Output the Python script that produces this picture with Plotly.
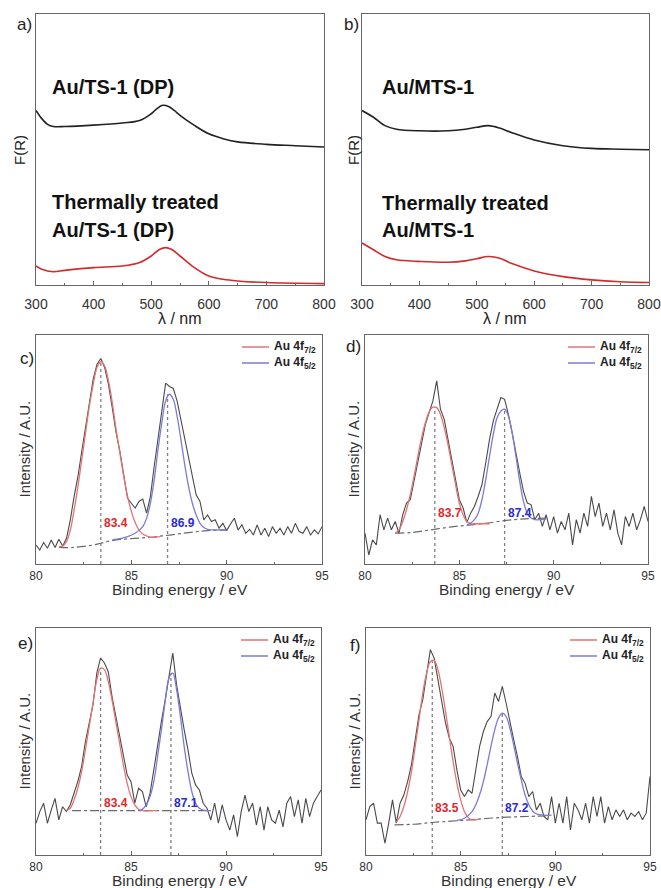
import plotly.graph_objects as go

W, H = 661, 888
FONT = "Liberation Sans, Arial, sans-serif"

# ---------------- UV-vis (panels a, b) ----------------
wl_a_dp = [300, 310, 320, 330, 350, 400, 450, 480, 500, 510, 520, 530, 540, 550, 575, 600, 625, 650, 700, 750, 800]
fr_a_dp = [0.644, 0.614, 0.593, 0.585, 0.585, 0.590, 0.598, 0.607, 0.632, 0.651, 0.663, 0.659, 0.644, 0.626,
           0.589, 0.558, 0.540, 0.528, 0.519, 0.514, 0.509]
wl_a_tt = [300, 310, 330, 350, 400, 450, 480, 500, 515, 525, 535, 550, 575, 600, 625, 650, 700, 800]
fr_a_tt = [0.070, 0.058, 0.049, 0.054, 0.064, 0.070, 0.083, 0.107, 0.132, 0.138, 0.132, 0.107, 0.064, 0.033,
           0.021, 0.015, 0.009, 0.005]

wl_b = [300, 320, 340, 360, 400, 450, 480, 500, 520, 540, 560, 600, 650, 700, 750, 800]
fr_b_mts = [0.644, 0.619, 0.588, 0.575, 0.569, 0.569, 0.575, 0.582, 0.588, 0.579, 0.563, 0.535, 0.514, 0.504,
            0.501, 0.499]
fr_b_tt = [0.155, 0.130, 0.105, 0.093, 0.087, 0.084, 0.089, 0.097, 0.105, 0.099, 0.080, 0.052, 0.031, 0.019,
           0.012, 0.009]

# ---------------- XPS (panels c-f) ----------------
be = [80.0, 80.2, 80.4, 80.6, 80.8, 81.0, 81.2, 81.4, 81.6, 81.8, 82.0, 82.2, 82.4, 82.6, 82.8, 83.0, 83.2, 83.4,
      83.6, 83.8, 84.0, 84.2, 84.4, 84.6, 84.8, 85.0, 85.2, 85.4, 85.6, 85.8, 86.0, 86.2, 86.4, 86.6, 86.8, 87.0,
      87.2, 87.4, 87.6, 87.8, 88.0, 88.2, 88.4, 88.6, 88.8, 89.0, 89.2, 89.4, 89.6, 89.8, 90.0, 90.2, 90.4, 90.6,
      90.8, 91.0, 91.2, 91.4, 91.6, 91.8, 92.0, 92.2, 92.4, 92.6, 92.8, 93.0, 93.2, 93.4, 93.6, 93.8, 94.0, 94.2,
      94.4, 94.6, 94.8, 95.0]

raw_c = [5.0, 2.7, 6.1, 3.5, 7.3, 3.9, 7.6, 4.5, 8.0, 16.4, 27.0, 36.0, 47.4, 58.8, 69.4, 80.0, 86.8, 89.4, 85.3,
         77.7, 67.1, 55.8, 47.4, 37.6, 26.2, 23.9, 21.7, 24.7, 25.8, 19.4, 27.0, 40.6, 52.7, 66.4, 78.2, 76.7,
         75.8, 70.2, 61.8, 52.0, 43.6, 36.0, 27.7, 24.7, 16.4, 18.6, 15.6, 16.4, 12.6, 14.8, 11.5, 14.5, 17.1,
         11.8, 14.1, 10.3, 12.1, 9.5, 14.1, 9.5, 12.6, 8.8, 13.3, 10.3, 12.6, 9.5, 13.3, 10.3, 14.8, 11.1, 10.3,
         13.3, 9.5, 11.8, 10.0, 13.3]
raw_d = [11.9, 2.2, 8.9, 6.7, 20.1, 13.4, 18.6, 13.4, 17.1, 11.9, 20.1, 25.3, 26.8, 35.0, 43.2, 52.1, 60.3, 65.5,
         70.7, 79.6, 67.0, 62.5, 53.6, 43.9, 35.0, 26.8, 23.1, 16.7, 20.8, 23.8, 28.3, 33.5, 43.2, 53.6, 61.8,
         67.0, 72.2, 71.4, 64.7, 56.5, 46.9, 38.7, 30.5, 25.3, 24.6, 17.9, 20.8, 14.9, 20.1, 13.4, 19.3, 11.9,
         17.1, 13.4, 20.8, 6.7, 17.9, 11.9, 20.8, 14.9, 28.3, 19.3, 25.3, 14.9, 20.8, 13.4, 22.3, 11.9, 6.7, 19.3,
         14.9, 20.8, 13.4, 17.9, 23.8, 17.1]
raw_e = [11.4, 16.7, 20.5, 11.4, 17.4, 22.7, 12.9, 18.9, 16.7, 19.7, 25.0, 30.3, 37.1, 48.5, 56.8, 65.2, 79.5,
         86.4, 84.1, 80.3, 68.9, 59.8, 52.3, 42.4, 33.3, 30.3, 20.5, 27.3, 25.8, 18.9, 25.0, 35.6, 47.7, 57.6,
         67.4, 78.0, 88.6, 74.2, 63.6, 53.8, 44.7, 34.1, 28.8, 26.5, 20.5, 18.2, 12.9, 20.5, 11.4, 19.7, 12.9,
         8.3, 15.2, 5.3, 16.7, 24.2, 16.7, 20.5, 10.6, 18.9, 8.3, 18.9, 12.9, 11.4, 17.4, 9.8, 20.5, 23.5, 14.4,
         22.0, 11.4, 22.7, 14.4, 20.5, 23.5, 26.5]
raw_f = [13.3, 19.3, 20.8, 11.8, 11.8, 2.7, 11.8, 22.3, 11.8, 20.8, 24.6, 30.6, 38.2, 50.2, 60.8, 67.6, 79.6,
         90.2, 86.4, 76.6, 67.6, 57.0, 50.2, 46.5, 35.9, 26.8, 23.8, 26.8, 25.3, 35.9, 46.5, 53.2, 57.7, 60.0,
         70.6, 66.8, 73.6, 66.1, 57.0, 49.5, 41.9, 32.9, 29.9, 23.8, 26.1, 17.8, 20.8, 14.8, 13.3, 23.8, 11.8,
         20.8, 11.8, 23.8, 8.7, 20.8, 17.8, 13.3, 20.8, 11.8, 23.8, 14.8, 23.8, 11.8, 19.3, 13.3, 17.8, 14.8,
         17.8, 13.3, 16.3, 14.8, 17.0, 13.3, 16.3, 32.9]

# fitted components (Au 4f7/2 red, Au 4f5/2 blue) and backgrounds
red_x_c = [81.2, 81.4, 81.6, 81.8, 82.0, 82.2, 82.4, 82.6, 82.8, 83.0, 83.2, 83.4, 83.6, 83.8, 84.0, 84.2, 84.4,
           84.6, 84.8, 85.0, 85.2, 85.4, 85.6, 85.8, 86.0, 86.2, 86.5]
red_y_c = [4.2, 4.5, 6.5, 11.8, 20.9, 31.5, 43.6, 55.8, 67.9, 77.7, 85.3, 87.9, 86.0, 79.2, 69.4, 57.3, 46.7,
           36.0, 27.0, 20.2, 15.2, 11.8, 10.0, 9.1, 8.5, 8.5, 8.8]
blue_x_c = [84.0, 84.4, 84.8, 85.2, 85.6, 85.8, 86.0, 86.2, 86.4, 86.6, 86.8, 87.0, 87.2, 87.4, 87.6, 87.8, 88.0,
            88.2, 88.4, 88.6, 88.8, 89.0, 89.5, 90.0]
blue_y_c = [7.3, 7.9, 8.8, 10.3, 13.3, 17.1, 23.9, 34.5, 48.2, 60.3, 70.2, 73.2, 70.9, 63.3, 52.7, 41.4, 31.5,
            23.9, 18.6, 14.8, 12.9, 12.1, 11.8, 11.8]
bg_x_c = [81.2, 82.0, 83.0, 83.4, 84.0, 85.0, 86.0, 87.0, 88.0, 89.0, 90.0]
bg_y_c = [3.9, 3.9, 5.0, 5.8, 7.0, 7.9, 8.5, 9.5, 10.6, 11.5, 11.8]

red_x_d = [81.6, 81.8, 82.0, 82.2, 82.4, 82.6, 82.8, 83.0, 83.2, 83.4, 83.6, 83.8, 84.0, 84.2, 84.4, 84.6, 84.8,
           85.0, 85.2, 85.4, 85.6, 85.8, 86.2, 86.6]
red_y_d = [11.9, 13.4, 17.1, 22.3, 29.0, 37.2, 46.1, 54.3, 61.0, 65.8, 67.9, 67.7, 64.7, 58.8, 51.3, 42.4, 33.5,
           25.3, 20.1, 17.1, 16.1, 16.1, 16.1, 16.1]
blue_x_d = [85.4, 85.6, 85.8, 86.0, 86.2, 86.4, 86.6, 86.8, 87.0, 87.2, 87.4, 87.6, 87.8, 88.0, 88.2, 88.4, 88.6,
            88.8, 89.0, 89.6]
blue_y_d = [15.6, 16.4, 17.9, 20.8, 26.8, 35.7, 46.1, 55.8, 63.2, 66.2, 67.0, 64.0, 56.5, 46.1, 35.0, 26.0, 20.8,
            18.6, 17.9, 18.2]
bg_x_d = [81.6, 82.5, 83.5, 84.5, 85.5, 86.5, 87.5, 88.5, 89.6]
bg_y_d = [11.9, 12.2, 13.4, 14.6, 15.5, 16.4, 17.6, 18.3, 18.6]

red_x_e = [81.6, 81.8, 82.0, 82.2, 82.4, 82.6, 82.8, 83.0, 83.2, 83.4, 83.6, 83.8, 84.0, 84.2, 84.4, 84.6, 84.8,
           85.0, 85.2, 85.4, 85.6, 86.0, 86.4]
red_y_e = [17.1, 18.2, 22.0, 27.3, 34.8, 44.7, 55.3, 65.9, 76.5, 81.8, 81.1, 75.8, 67.4, 57.6, 47.7, 37.9, 29.5,
           23.5, 19.7, 17.7, 17.1, 17.1, 17.1]
blue_x_e = [85.4, 85.6, 85.8, 86.0, 86.2, 86.4, 86.6, 86.8, 87.0, 87.2, 87.4, 87.6, 87.8, 88.0, 88.2, 88.4, 88.6,
            88.8, 89.2]
blue_y_e = [17.1, 17.7, 19.7, 23.5, 30.3, 41.7, 53.8, 66.7, 77.3, 79.5, 72.0, 59.8, 46.2, 34.8, 25.8, 20.5, 18.2,
            17.4, 17.1]
bg_x_e = [81.9, 89.2]
bg_y_e = [17.1, 17.1]

red_x_f = [81.6, 81.8, 82.0, 82.2, 82.4, 82.6, 82.8, 83.0, 83.2, 83.4, 83.6, 83.8, 84.0, 84.2, 84.4, 84.6, 84.8,
           85.0, 85.2, 85.4, 85.6, 85.8, 86.0]
red_y_f = [12.1, 14.8, 19.3, 26.1, 35.1, 46.5, 58.5, 70.6, 79.6, 84.9, 85.4, 81.1, 72.8, 62.3, 51.0, 39.7, 29.9,
           22.3, 17.0, 14.3, 13.3, 13.3, 13.6]
blue_x_f = [84.8, 85.2, 85.6, 85.8, 86.0, 86.2, 86.4, 86.6, 86.8, 87.0, 87.2, 87.4, 87.6, 87.8, 88.0, 88.2, 88.4,
            88.6, 88.8, 89.0, 89.4, 89.8]
blue_y_f = [13.0, 14.0, 17.0, 20.1, 24.6, 30.6, 38.2, 46.5, 54.0, 59.3, 61.5, 60.0, 54.7, 47.2, 38.9, 31.4, 24.6,
            20.1, 17.3, 16.0, 15.4, 15.4]
bg_x_f = [81.5, 82.5, 83.5, 84.5, 85.5, 86.5, 87.5, 88.5, 89.5]
bg_y_f = [11.0, 11.3, 12.1, 12.7, 13.3, 14.0, 14.5, 14.8, 15.1]

peaks_c = [83.4, 86.9]
peaks_d = [83.7, 87.4]
peaks_e = [83.4, 87.1]
peaks_f = [83.5, 87.2]
label_y = {"c": 14.8, "d": 20.8, "e": 20.5, "f": 18.5}
legend_names = ["<b>Au 4f<sub>7/2</sub></b>", "<b>Au 4f<sub>5/2</sub></b>"]

uv_ticks = [300, 400, 500, 600, 700, 800]
xps_ticks = [80, 85, 90, 95]

# ---------------- figure ----------------
fig = go.Figure()
AX = "#666666"


def px_x(p):
    return p / W


def px_y(p):
    return 1 - p / H


def setup_axes(i, xpx, ypx, xr, ticks, minor_dtick, tfs, yr, standoff):
    sid = "" if i == 1 else str(i)
    fig.layout["xaxis" + sid] = dict(
        domain=[px_x(xpx[0]), px_x(xpx[1])], anchor="y" + sid, range=xr, automargin=False,
        tickvals=ticks, ticktext=[str(t) for t in ticks], ticklabelstandoff=standoff,
        showline=True, mirror=True, linecolor=AX, linewidth=1.2,
        ticks="inside", ticklen=4, tickcolor=AX, tickwidth=1,
        minor=dict(dtick=minor_dtick, tick0=xr[0], ticks="inside", ticklen=2, tickcolor=AX),
        showgrid=False, zeroline=False,
        tickfont=dict(size=tfs, color="#333333", family=FONT),
    )
    fig.layout["yaxis" + sid] = dict(
        domain=[px_y(ypx[1]), px_y(ypx[0])], anchor="x" + sid, range=yr, automargin=False,
        showline=True, mirror=True, linecolor=AX, linewidth=1.2,
        showticklabels=False, ticks="", showgrid=False, zeroline=False,
    )
    return "x" + sid, "y" + sid


# panel a
xa, ya = setup_axes(1, (36, 324), (14, 285), [300, 800], uv_ticks, 50, 14, [0, 1], 6)
fig.add_trace(go.Scatter(x=wl_a_dp, y=fr_a_dp, mode="lines", line=dict(color="#222222", width=1.6, shape="spline"),
                         xaxis=xa, yaxis=ya, showlegend=False))
fig.add_trace(go.Scatter(x=wl_a_tt, y=fr_a_tt, mode="lines", line=dict(color="#d42a2a", width=1.6, shape="spline"),
                         xaxis=xa, yaxis=ya, showlegend=False))
# panel b
xb, yb = setup_axes(2, (362, 649), (14, 285), [300, 800], uv_ticks, 50, 14, [0, 1], 6)
fig.add_trace(go.Scatter(x=wl_b, y=fr_b_mts, mode="lines", line=dict(color="#222222", width=1.6, shape="spline"),
                         xaxis=xb, yaxis=yb, showlegend=False))
fig.add_trace(go.Scatter(x=wl_b, y=fr_b_tt, mode="lines", line=dict(color="#d42a2a", width=1.6, shape="spline"),
                         xaxis=xb, yaxis=yb, showlegend=False))

xps = [
    ("c", 3, (36, 322), (335, 564), [-3.6, 100], raw_c, red_x_c, red_y_c, blue_x_c, blue_y_c, bg_x_c, bg_y_c, peaks_c),
    ("d", 4, (365, 648), (335, 564), [-1.8, 100], raw_d, red_x_d, red_y_d, blue_x_d, blue_y_d, bg_x_d, bg_y_d, peaks_d),
    ("e", 5, (36, 321), (628, 855), [-3.0, 100], raw_e, red_x_e, red_y_e, blue_x_e, blue_y_e, bg_x_e, bg_y_e, peaks_e),
    ("f", 6, (366, 650), (628, 855), [-2.6, 100], raw_f, red_x_f, red_y_f, blue_x_f, blue_y_f, bg_x_f, bg_y_f, peaks_f),
]
RED, BLUE = "#e57373", "#7b7bd9"
annotations = []
shapes = []
for key, i, xpx, ypx, yr, raw, rx, ry, bx, by, gx, gy, pk in xps:
    xx, yy = setup_axes(i, xpx, ypx, [80, 95], xps_ticks, 2.5, 12, yr, 0)
    # dotted peak markers
    for p, fy in zip(pk, [ry, by]):
        fig.add_trace(go.Scatter(x=[p, p], y=[yr[0], max(fy)], mode="lines",
                                 line=dict(color="#808080", width=1.3, dash="dot"),
                                 xaxis=xx, yaxis=yy, showlegend=False, hoverinfo="skip"))
    fig.add_trace(go.Scatter(x=gx, y=gy, mode="lines", line=dict(color="#6a6a6a", width=1.2, dash="dashdot",
                                                                   shape="spline"),
                             xaxis=xx, yaxis=yy, showlegend=False))
    fig.add_trace(go.Scatter(x=be, y=raw, mode="lines", line=dict(color="#4a4a4a", width=1.1),
                             xaxis=xx, yaxis=yy, showlegend=False))
    fig.add_trace(go.Scatter(x=rx, y=ry, mode="lines", line=dict(color=RED, width=1.3, shape="spline"),
                             xaxis=xx, yaxis=yy, name=legend_names[0], showlegend=False))
    fig.add_trace(go.Scatter(x=bx, y=by, mode="lines", line=dict(color=BLUE, width=1.3, shape="spline"),
                             xaxis=xx, yaxis=yy, name=legend_names[1], showlegend=False))
    for p, col in zip(pk, ["#e3262a", "#2a2ad6"]):
        annotations.append(dict(x=p, y=label_y[key], xref=xx, yref=yy, text=f"<b>{p:.1f}</b>", showarrow=False,
                                xanchor="left", yanchor="middle", xshift=1,
                                font=dict(size=12, color=col, family=FONT)))
    # legend (two rows, upper right)
    R = xpx[1]
    for k, (nm, col) in enumerate(zip(legend_names, [RED, BLUE])):
        yrow = ypx[0] + 12 + 16 * k
        shapes.append(dict(type="line", xref="paper", yref="paper", x0=px_x(R - 80), x1=px_x(R - 53),
                           y0=px_y(yrow), y1=px_y(yrow), line=dict(color=col, width=1.5)))
        annotations.append(dict(x=px_x(R - 50), y=px_y(yrow), xref="paper", yref="paper", text=nm,
                                showarrow=False, xanchor="left", yanchor="middle",
                                font=dict(size=12, color="#222222", family=FONT)))
    # axis titles
    cx = (xpx[0] + xpx[1]) / 2 + 1
    annotations.append(dict(x=px_x(cx), y=px_y(ypx[1] + 25), xref="paper", yref="paper", text="Binding energy / eV",
                            showarrow=False, xanchor="center", yanchor="middle",
                            font=dict(size=15.5, color="#333333", family=FONT)))
    annotations.append(dict(x=px_x(xpx[0] - 12), y=px_y((ypx[0] + ypx[1]) / 2), xref="paper", yref="paper",
                            text="Intensity / A.U.", textangle=-90, showarrow=False, xanchor="center",
                            yanchor="middle", font=dict(size=15, color="#333333", family=FONT)))

# panel letters
for t, xp, yp in [("a)", 24, 25), ("b)", 351, 25), ("c)", 27, 358), ("d)", 353, 346), ("e)", 25, 643),
                  ("f)", 355, 645)]:
    annotations.append(dict(x=px_x(xp), y=px_y(yp), xref="paper", yref="paper", text=t, showarrow=False,
                            xanchor="center", yanchor="middle", font=dict(size=17, color="#222222", family=FONT)))

# UV-vis labels
for txt, xp, yp in [("<b>Au/TS-1 (DP)</b>", 50, 87), ("<b>Thermally treated</b>", 50, 202),
                    ("<b>Au/TS-1 (DP)</b>", 50, 230), ("<b>Au/MTS-1</b>", 380, 87),
                    ("<b>Thermally treated</b>", 380, 203), ("<b>Au/MTS-1</b>", 380, 230)]:
    annotations.append(dict(x=px_x(xp), y=px_y(yp), xref="paper", yref="paper", text=txt, showarrow=False,
                            xanchor="left", yanchor="middle", font=dict(size=20, color="#111111", family=FONT)))
for xp in [20, 354]:
    annotations.append(dict(x=px_x(xp), y=px_y(150), xref="paper", yref="paper", text="F(R)", textangle=-90,
                            showarrow=False, xanchor="center", yanchor="middle",
                            font=dict(size=15, color="#222222", family=FONT)))
for xp in [180, 505]:
    annotations.append(dict(x=px_x(xp), y=px_y(318), xref="paper", yref="paper", text="λ / nm", showarrow=False,
                            xanchor="center", yanchor="middle", font=dict(size=16, color="#222222", family=FONT)))

fig.update_layout(width=W, height=H, margin=dict(l=0, r=0, t=0, b=0, autoexpand=False), paper_bgcolor="white",
                  plot_bgcolor="white", font=dict(family=FONT), annotations=annotations, shapes=shapes,
                  showlegend=False)
fig.write_html("out.html", config={"displayModeBar": False},
               post_script="document.body.style.margin='0px';")
